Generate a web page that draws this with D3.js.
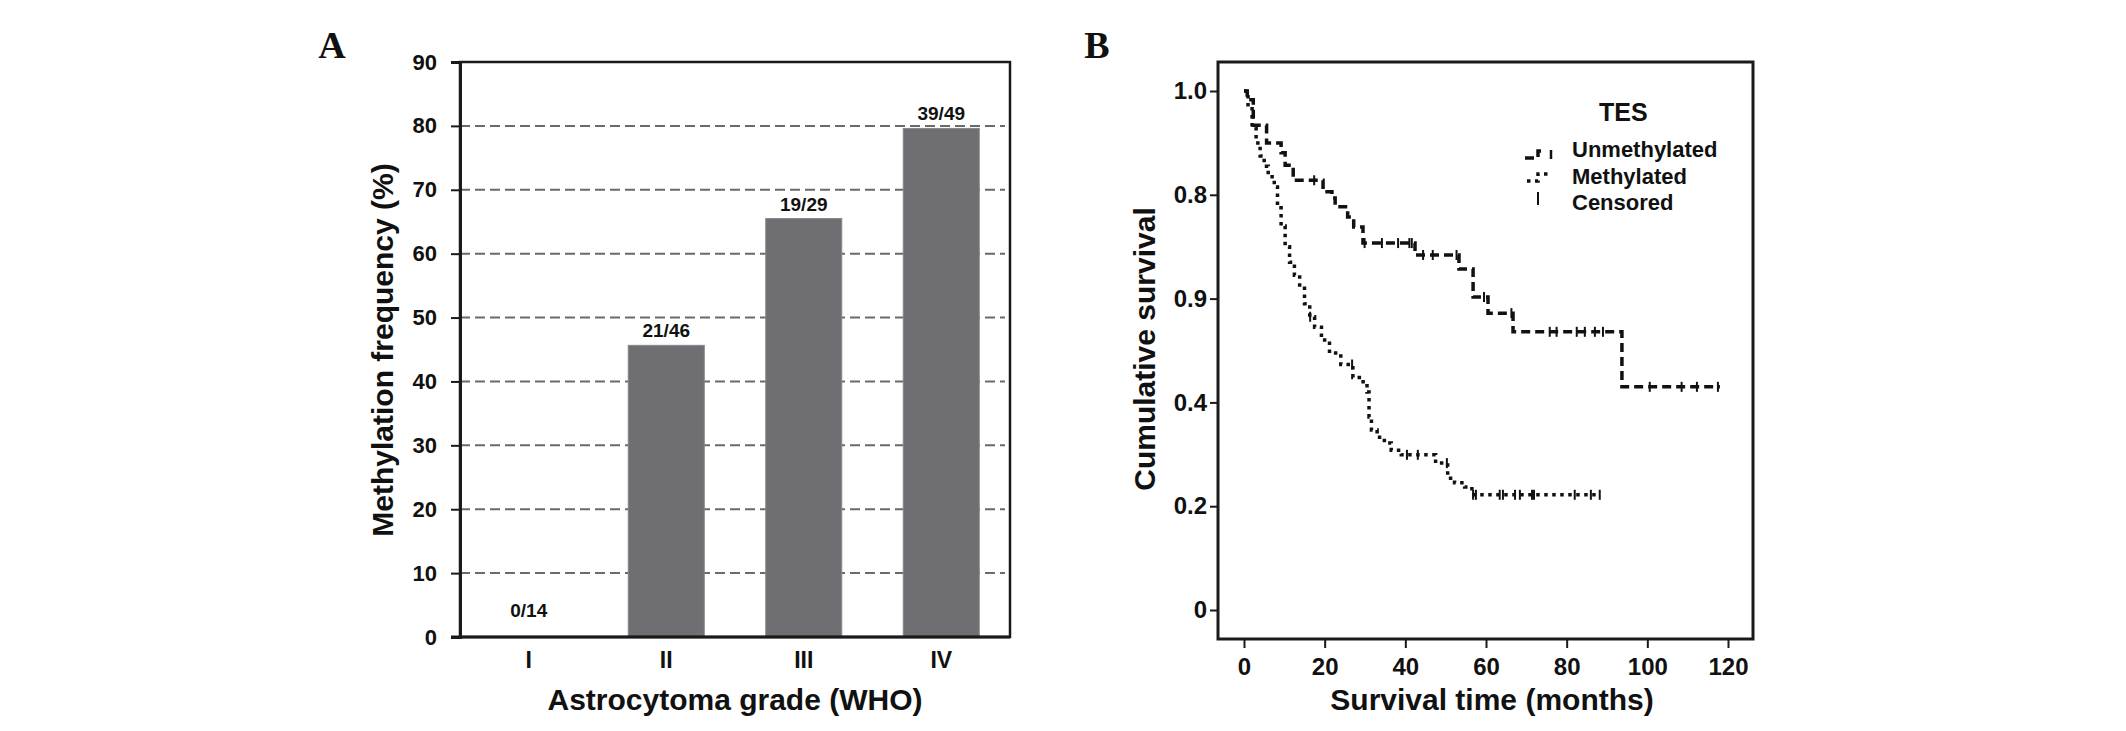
<!DOCTYPE html>
<html>
<head>
<meta charset="utf-8">
<script src="https://cdn.jsdelivr.net/npm/d3@7/dist/d3.min.js"></script>
<style>
  body { margin: 0; background: #fff; }
  text { font-family: "Liberation Sans", Arial, sans-serif; font-weight: bold; fill: #111; }
</style>
</head>
<body>
<div id="chart"></div>
<script>
// Panel A data: methylation frequency by WHO grade
const grades = ["I", "II", "III", "IV"];
const freqPct = [0, 45.65, 65.5, 79.6];
const counts = ["0/14", "21/46", "19/29", "39/49"];
const yTicksA = [0, 10, 20, 30, 40, 50, 60, 70, 80, 90];

// Panel B data: Kaplan-Meier steps (time in months, survival after the drop)
const unmethTimes = [0, 0.8, 2.3, 5.6, 9.2, 10.2, 12.2, 19.6, 21.8, 22.6, 25.7, 27.2, 29.5, 42.4, 53.3, 56.8, 60.5, 66.7, 93.7];
const unmethSurv  = [1.0, 0.983, 0.934, 0.90, 0.881, 0.857, 0.828, 0.806, 0.794, 0.777, 0.757, 0.738, 0.707, 0.684, 0.657, 0.603, 0.572, 0.536, 0.43];
const unmethEnd = 118;
const unmethCensored = [17.4, 29.9, 34.2, 38.2, 41.0, 41.6, 44.4, 46.8, 52.7, 59.5, 66.3, 75.8, 77.5, 82.5, 84.5, 87, 89, 100.6, 108.5, 112.3, 117.5];

const methTimes = [0, 1, 2, 3, 4, 5, 6, 7.5, 8.3, 9.2, 10.2, 11.3, 12.5, 13.8, 15, 16.3, 17.5, 19.2, 21.2, 24, 27, 28.6, 30.5, 31, 31.6, 33, 34.8, 36.5, 39, 47.5, 50.5, 52.2, 54.7, 56.5];
const methSurv  = [1.0, 0.97, 0.93, 0.90, 0.875, 0.855, 0.835, 0.815, 0.775, 0.74, 0.70, 0.67, 0.645, 0.62, 0.59, 0.565, 0.545, 0.52, 0.495, 0.473, 0.448, 0.44, 0.42, 0.372, 0.347, 0.333, 0.322, 0.308, 0.299, 0.283, 0.254, 0.245, 0.237, 0.222];
const methEnd = 88.2;
const methCensored = [16.4, 26.8, 40.4, 43.1, 50.3, 56.8, 57.5, 63.4, 64.2, 67.2, 68.4, 71.4, 71.9, 82, 86, 88.2];

const xTicksB = [0, 20, 40, 60, 80, 100, 120];
const yTicksB = [0, 0.2, 0.4, 0.6, 0.8, 1.0];
const yTickLabelsB = ["0", "0.2", "0.4", "0.9", "0.8", "1.0"]; // as printed in the figure

const legendItems = ["Unmethylated", "Methylated", "Censored"];

const svg = d3.select("#chart").append("svg")
  .attr("width", 2126)
  .attr("height", 731);

// ---------- Panel A ----------
const xA = d3.scaleBand().domain(grades).range([460, 1010]).paddingInner(0.447).paddingOuter(0.2235);
const yA = d3.scaleLinear().domain([0, 90]).range([637, 62]);

const gA = svg.append("g");

// dashed gridlines
gA.selectAll("line.grid")
  .data(yTicksA.filter(d => d > 0 && d < 90))
  .enter().append("line")
  .attr("x1", 460).attr("x2", 1005)
  .attr("y1", d => yA(d)).attr("y2", d => yA(d))
  .attr("stroke", "#6a6a6a").attr("stroke-width", 2)
  .attr("stroke-dasharray", "10,5");

// bars
gA.selectAll("rect.bar")
  .data(grades)
  .enter().append("rect")
  .attr("x", d => xA(d))
  .attr("width", xA.bandwidth())
  .attr("y", (d, i) => yA(freqPct[i]))
  .attr("height", (d, i) => yA(0) - yA(freqPct[i]))
  .attr("fill", "#6e6e73")
  .attr("stroke", "#88888c").attr("stroke-width", 1);

// count labels
gA.selectAll("text.cnt")
  .data(grades)
  .enter().append("text")
  .attr("x", d => xA(d) + xA.bandwidth() / 2)
  .attr("y", (d, i) => yA(freqPct[i]) - (freqPct[i] > 0 ? 8 : 20))
  .attr("text-anchor", "middle")
  .style("font-size", "19px")
  .text((d, i) => counts[i]);

// frame
gA.append("rect")
  .attr("x", 460).attr("y", 62).attr("width", 550).attr("height", 575)
  .attr("fill", "none").attr("stroke", "#1a1a1a").attr("stroke-width", 2.5);

// y axis
const axisA = gA.append("g").attr("transform", "translate(460,0)")
  .call(d3.axisLeft(yA).tickValues(yTicksA).tickSize(9).tickPadding(14).tickFormat(d3.format("d")));
axisA.select(".domain").attr("stroke", "#1a1a1a").attr("stroke-width", 3);
axisA.selectAll(".tick line").attr("stroke", "#1a1a1a").attr("stroke-width", 2);
axisA.selectAll(".tick text").style("font-size", "22px").style("font-family", "'Liberation Sans', Arial, sans-serif").style("font-weight", "bold").attr("fill", "#111");

// x axis (category labels only)
const axisAx = gA.append("g").attr("transform", "translate(0,637)")
  .call(d3.axisBottom(xA).tickSize(0).tickPadding(14));
axisAx.select(".domain").attr("stroke", "#1a1a1a").attr("stroke-width", 3).attr("d", "M451,0H1010");
axisAx.selectAll(".tick text").style("font-size", "23px").style("font-family", "'Liberation Sans', Arial, sans-serif").style("font-weight", "bold").attr("fill", "#111").attr("dy", "0.72em");

gA.append("text")
  .attr("x", 735).attr("y", 710)
  .attr("text-anchor", "middle")
  .style("font-size", "30px")
  .text("Astrocytoma grade (WHO)");

gA.append("text")
  .attr("transform", "translate(393,350) rotate(-90)")
  .attr("text-anchor", "middle")
  .style("font-size", "30px")
  .text("Methylation frequency (%)");

svg.append("text")
  .attr("x", 332).attr("y", 58)
  .attr("text-anchor", "middle")
  .style("font-family", "'Liberation Serif', 'Times New Roman', serif")
  .style("font-size", "38px")
  .text("A");

// ---------- Panel B ----------
const xB = d3.scaleLinear().domain([0, 120]).range([1244, 1728]);
const yB = d3.scaleLinear().domain([0, 1]).range([610, 91]);

const gB = svg.append("g");

gB.append("rect")
  .attr("x", 1218).attr("y", 62).attr("width", 535).attr("height", 577)
  .attr("fill", "none").attr("stroke", "#1a1a1a").attr("stroke-width", 3);

const axisBy = gB.append("g").attr("transform", "translate(1218,0)")
  .call(d3.axisLeft(yB).tickValues(yTicksB).tickSize(8).tickPadding(3)
    .tickFormat((d, i) => yTickLabelsB[i]));
axisBy.select(".domain").remove();
axisBy.selectAll(".tick line").attr("stroke", "#1a1a1a").attr("stroke-width", 2);
axisBy.selectAll(".tick text").style("font-size", "24px").style("font-family", "'Liberation Sans', Arial, sans-serif").style("font-weight", "bold").attr("fill", "#111");

const axisBx = gB.append("g").attr("transform", "translate(0,639)")
  .call(d3.axisBottom(xB).tickValues(xTicksB).tickSize(9).tickPadding(10).tickFormat(d3.format("d")));
axisBx.select(".domain").remove();
axisBx.selectAll(".tick line").attr("stroke", "#1a1a1a").attr("stroke-width", 2);
axisBx.selectAll(".tick text").style("font-size", "24px").style("font-family", "'Liberation Sans', Arial, sans-serif").style("font-weight", "bold").attr("fill", "#111");

gB.append("text")
  .attr("x", 1492).attr("y", 710)
  .attr("text-anchor", "middle")
  .style("font-size", "30px")
  .text("Survival time (months)");

gB.append("text")
  .attr("transform", "translate(1155,349) rotate(-90)")
  .attr("text-anchor", "middle")
  .style("font-size", "30px")
  .text("Cumulative survival");

svg.append("text")
  .attr("x", 1097).attr("y", 58)
  .attr("text-anchor", "middle")
  .style("font-family", "'Liberation Serif', 'Times New Roman', serif")
  .style("font-size", "38px")
  .text("B");

// survival curves
const stepLine = d3.line().x(d => xB(d[0])).y(d => yB(d[1])).curve(d3.curveStepAfter);

function stepPoints(times, surv, end) {
  const pts = times.map((t, i) => [t, surv[i]]);
  pts.push([end, surv[surv.length - 1]]);
  return pts;
}
function survAt(times, surv, t) {
  let v = surv[0];
  times.forEach((tt, i) => { if (tt <= t) v = surv[i]; });
  return v;
}

const series = [
  { times: unmethTimes, surv: unmethSurv, end: unmethEnd, cens: unmethCensored, dash: "9,5", width: 3.5 },
  { times: methTimes, surv: methSurv, end: methEnd, cens: methCensored, dash: "3.5,4.5", width: 3.5 }
];

series.forEach(s => {
  gB.append("path")
    .attr("d", stepLine(stepPoints(s.times, s.surv, s.end)))
    .attr("fill", "none")
    .attr("stroke", "#111")
    .attr("stroke-width", s.width)
    .attr("stroke-dasharray", s.dash);

  gB.selectAll(null)
    .data(s.cens)
    .enter().append("line")
    .attr("x1", d => xB(d)).attr("x2", d => xB(d))
    .attr("y1", d => yB(survAt(s.times, s.surv, d)) - 5)
    .attr("y2", d => yB(survAt(s.times, s.surv, d)) + 5)
    .attr("stroke", "#111").attr("stroke-width", 2);
});

// legend
const leg = gB.append("g");
leg.append("text")
  .attr("x", 1599).attr("y", 121)
  .style("font-size", "25px")
  .text("TES");
leg.selectAll("text.item")
  .data(legendItems)
  .enter().append("text")
  .attr("x", 1572)
  .attr("y", (d, i) => 157 + i * 26.5)
  .style("font-size", "22px")
  .text(d => d);

leg.append("path")
  .attr("d", "M1525,158H1538V151H1546")
  .attr("fill", "none").attr("stroke", "#111").attr("stroke-width", 3.5)
  .attr("stroke-dasharray", "9,5");
leg.append("line")
  .attr("x1", 1551).attr("x2", 1551).attr("y1", 150).attr("y2", 159)
  .attr("stroke", "#111").attr("stroke-width", 2.5);
leg.append("path")
  .attr("d", "M1527,181H1538V174H1552")
  .attr("fill", "none").attr("stroke", "#111").attr("stroke-width", 3.5)
  .attr("stroke-dasharray", "3.5,4.5");
leg.append("line")
  .attr("x1", 1538).attr("x2", 1538).attr("y1", 192).attr("y2", 205)
  .attr("stroke", "#111").attr("stroke-width", 2);
</script>
</body>
</html>
